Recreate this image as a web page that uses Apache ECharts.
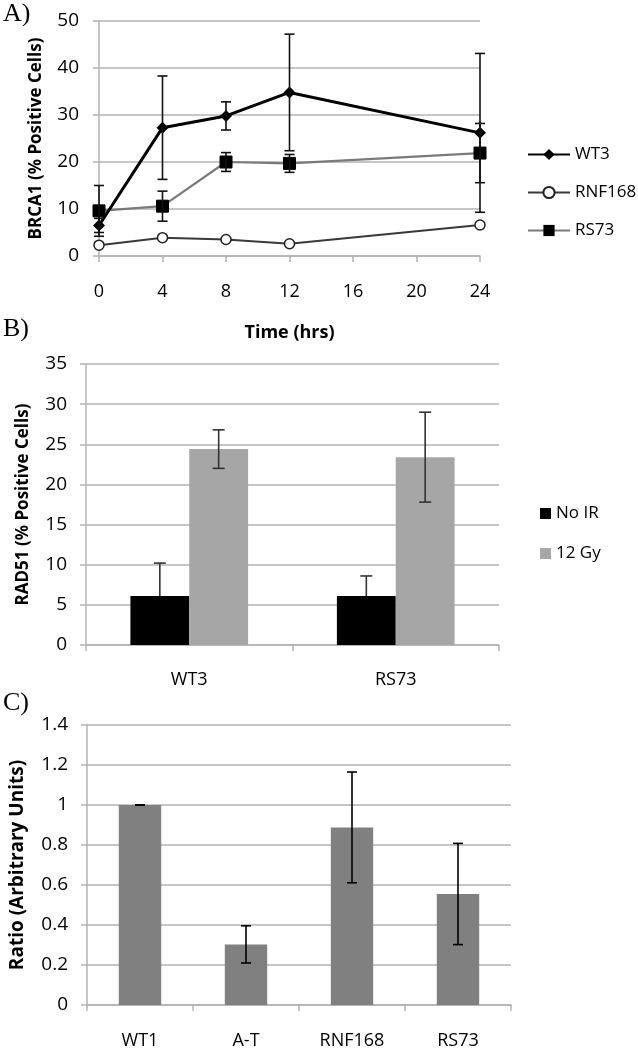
<!DOCTYPE html>
<html><head><meta charset="utf-8">
<script src="https://cdn.jsdelivr.net/npm/echarts@6/dist/echarts.min.js"></script>
<style>html,body{margin:0;padding:0;background:#fff}#c{width:638px;height:1050px}</style>
</head><body><div id="c"></div>
<script>
// Panel A data
const timesA = [0, 4, 8, 12, 24];
const wt3 = [6.5, 27.3, 29.8, 34.8, 26.2];
const wt3Err = [1.5, 11.0, 3.0, 12.4, 16.9];
const rnf168 = [2.3, 3.9, 3.5, 2.6, 6.6];
const rnf168Err = [0.6, 0.5, 0.5, 0.4, 0.6];
const rs73 = [9.6, 10.6, 20.0, 19.7, 21.9];
const rs73Err = [5.4, 3.2, 2.0, 1.9, 6.3];
// Panel B data
const catB = ['WT3', 'RS73'];
const noIR = [6.1, 6.1];
const noIRErr = [4.1, 2.5];
const gy12 = [24.4, 23.4];
const gy12Err = [2.4, 5.6];
// Panel C data
const catC = ['WT1', 'A-T', 'RNF168', 'RS73'];
const ratio = [1.0, 0.303, 0.888, 0.555];
const ratioErr = [0, 0.093, 0.277, 0.253];

const FONT = 'Open Sans';
const GRID = '#b3b3b3';

function errData(xs, vals, errs) {
  return vals.map((v, i) => [xs[i], Math.max(0, v - errs[i]), v + errs[i]]);
}
function errRender(offFrac, capW, color, lw) {
  return function (params, api) {
    const x = api.value(0), lo = api.value(1), hi = api.value(2);
    const pH = api.coord([x, hi]), pL = api.coord([x, lo]);
    let off = 0;
    if (offFrac) off = api.size([1, 0])[0] * offFrac;
    const cx = pH[0] + off;
    const st = { stroke: color, lineWidth: lw };
    return { type: 'group', children: [
      { type: 'line', shape: { x1: cx, y1: pH[1], x2: cx, y2: pL[1] }, style: st },
      { type: 'line', shape: { x1: cx - capW / 2, y1: pH[1], x2: cx + capW / 2, y2: pH[1] }, style: st },
      { type: 'line', shape: { x1: cx - capW / 2, y1: pL[1], x2: cx + capW / 2, y2: pL[1] }, style: st }
    ]};
  };
}
const idxB = catB.map((_, i) => i);
const idxC = catC.map((_, i) => i);

const axisLineStyle = { lineStyle: { color: GRID, width: 1.5 } };
const tickStyle = { show: true, length: 6, lineStyle: { color: GRID, width: 1.5 } };

const chart = echarts.init(document.getElementById('c'), null, { renderer: 'canvas' });
chart.setOption({
  animation: false,
  textStyle: { fontFamily: FONT },
  graphic: [
    { type: 'text', left: 3, top: 1, style: { text: 'A)', font: '26px "Liberation Serif"', fill: '#000' } },
    { type: 'text', left: 3, top: 316, style: { text: 'B)', font: '26px "Liberation Serif"', fill: '#000' } },
    { type: 'text', left: 3, top: 690, style: { text: 'C)', font: '26px "Liberation Serif"', fill: '#000' } }
  ],
  legend: [
    { data: ['WT3', 'RNF168', 'RS73'], orient: 'vertical', left: 522, top: 141,
      itemWidth: 42, itemHeight: 14, itemGap: 21, textStyle: { fontSize: 17, color: '#000', fontFamily: FONT } },
    { data: ['No IR', '12 Gy'], orient: 'vertical', left: 535, top: 500, icon: 'rect',
      itemWidth: 11, itemHeight: 11, itemGap: 23, textStyle: { fontSize: 17, color: '#000', fontFamily: FONT } }
  ],
  grid: [
    { left: 99, right: 158, top: 21, height: 235 },
    { left: 86, right: 139, top: 364, height: 281 },
    { left: 87, right: 127, top: 725, height: 280 }
  ],
  xAxis: [
    { gridIndex: 0, type: 'value', min: 0, max: 24, interval: 4,
      name: 'Time (hrs)', nameLocation: 'middle', nameGap: 68,
      nameTextStyle: { fontSize: 18, fontWeight: 'bold', color: '#000' },
      axisLine: axisLineStyle, axisTick: tickStyle, splitLine: { show: false },
      axisLabel: { fontSize: 18, color: '#000', margin: 27 } },
    { gridIndex: 1, type: 'category', data: catB,
      axisLine: axisLineStyle, axisTick: tickStyle,
      axisLabel: { fontSize: 18, color: '#000', margin: 26 } },
    { gridIndex: 2, type: 'category', data: catC,
      axisLine: axisLineStyle, axisTick: tickStyle,
      axisLabel: { fontSize: 18, color: '#000', margin: 27 } }
  ],
  yAxis: [
    { gridIndex: 0, type: 'value', min: 0, max: 50, interval: 10,
      name: 'BRCA1 (% Positive Cells)', nameLocation: 'middle', nameGap: 54,
      nameTextStyle: { fontSize: 17, fontWeight: 'bold', color: '#000' },
      axisLine: { show: true, lineStyle: { color: GRID, width: 1.5 } }, axisTick: tickStyle,
      splitLine: { lineStyle: { color: GRID, width: 1.5 } },
      axisLabel: { fontSize: 19, color: '#000', margin: 20 } },
    { gridIndex: 1, type: 'value', min: 0, max: 35, interval: 5,
      name: 'RAD51 (% Positive Cells)', nameLocation: 'middle', nameGap: 54,
      nameTextStyle: { fontSize: 17, fontWeight: 'bold', color: '#000' },
      axisLine: { show: true, lineStyle: { color: GRID, width: 1.5 } }, axisTick: tickStyle,
      splitLine: { lineStyle: { color: GRID, width: 1.5 } },
      axisLabel: { fontSize: 19, color: '#000', margin: 19 } },
    { gridIndex: 2, type: 'value', min: 0, max: 1.4, interval: 0.2,
      name: 'Ratio (Arbitrary Units)', nameLocation: 'middle', nameGap: 60,
      nameTextStyle: { fontSize: 19, fontWeight: 'bold', color: '#000' },
      axisLine: { show: true, lineStyle: { color: GRID, width: 1.5 } }, axisTick: tickStyle,
      splitLine: { lineStyle: { color: GRID, width: 1.5 } },
      axisLabel: { fontSize: 19, color: '#000', margin: 19 } }
  ],
  series: [
    // Panel A lines
    { name: 'RNF168', type: 'line', xAxisIndex: 0, yAxisIndex: 0,
      data: timesA.map((t, i) => [t, rnf168[i]]),
      lineStyle: { color: '#3a3a3a', width: 2 }, itemStyle: { color: '#fff', borderColor: '#222', borderWidth: 1.5 },
      symbol: 'circle', symbolSize: 10, z: 3 },
    { name: 'RS73', type: 'line', xAxisIndex: 0, yAxisIndex: 0,
      data: timesA.map((t, i) => [t, rs73[i]]),
      lineStyle: { color: '#7a7a7a', width: 2.2 }, itemStyle: { color: '#000', borderColor: '#000' },
      symbol: 'rect', symbolSize: 12, z: 4 },
    { name: 'WT3', type: 'line', xAxisIndex: 0, yAxisIndex: 0,
      data: timesA.map((t, i) => [t, wt3[i]]),
      lineStyle: { color: '#000', width: 3 }, itemStyle: { color: '#000' },
      symbol: 'diamond', symbolSize: 12, z: 5 },
    { type: 'custom', xAxisIndex: 0, yAxisIndex: 0, data: errData(timesA, wt3, wt3Err),
      renderItem: errRender(0, 10, '#111', 1.6), z: 6, silent: true },
    { type: 'custom', xAxisIndex: 0, yAxisIndex: 0, data: errData(timesA, rnf168, rnf168Err),
      renderItem: errRender(0, 8, '#222', 1.4), z: 2, silent: true },
    { type: 'custom', xAxisIndex: 0, yAxisIndex: 0, data: errData(timesA, rs73, rs73Err),
      renderItem: errRender(0, 10, '#111', 1.6), z: 6, silent: true },
    // Panel B bars
    { name: 'No IR', type: 'bar', xAxisIndex: 1, yAxisIndex: 1, data: noIR,
      itemStyle: { color: '#000' }, barGap: 0, barCategoryGap: '43%', z: 3 },
    { name: '12 Gy', type: 'bar', xAxisIndex: 1, yAxisIndex: 1, data: gy12,
      itemStyle: { color: '#a6a6a6' }, barGap: 0, barCategoryGap: '43%', z: 3 },
    { type: 'custom', xAxisIndex: 1, yAxisIndex: 1, data: errData(idxB, noIR, noIRErr),
      renderItem: errRender(-0.1425, 12, '#333', 1.6), z: 2, silent: true },
    { type: 'custom', xAxisIndex: 1, yAxisIndex: 1, data: errData(idxB, gy12, gy12Err),
      renderItem: errRender(0.1425, 12, '#333', 1.6), z: 6, silent: true },
    // Panel C bars
    { name: 'Ratio', type: 'bar', xAxisIndex: 2, yAxisIndex: 2, data: ratio,
      itemStyle: { color: '#808080' }, barWidth: '40%' },
    { type: 'custom', xAxisIndex: 2, yAxisIndex: 2, data: errData(idxC, ratio, ratioErr),
      renderItem: errRender(0, 10, '#000', 1.6), z: 6, silent: true }
  ]
});
</script></body></html>
